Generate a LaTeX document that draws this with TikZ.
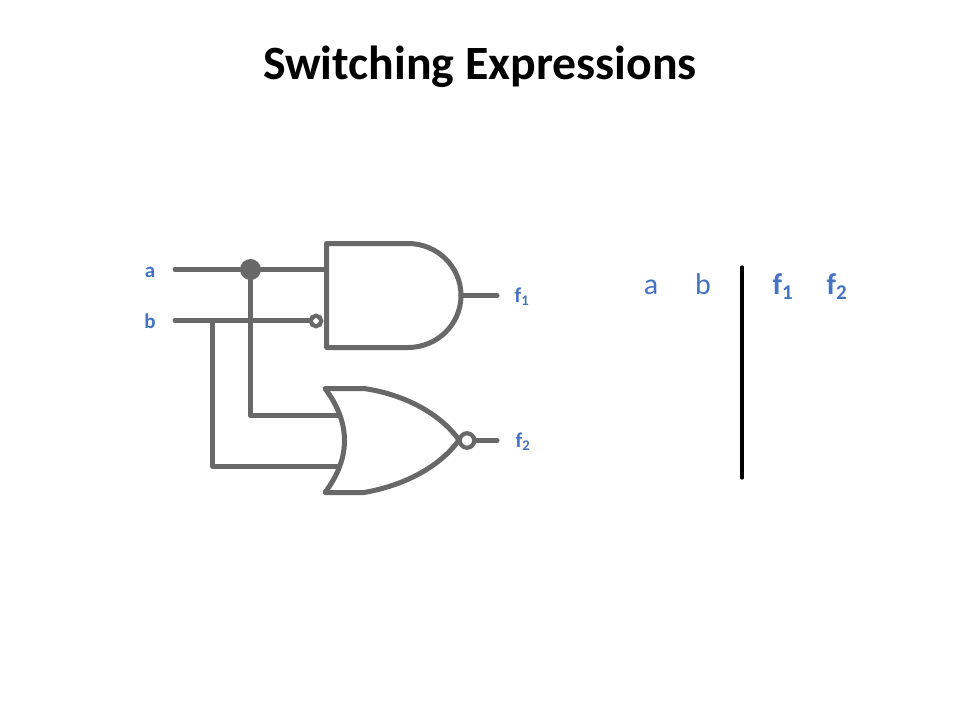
\documentclass[tikz,border=0pt]{standalone}
\usepackage{fontspec}
\setmainfont{Carlito}
\definecolor{wire}{RGB}{104,104,104}
\definecolor{lbl}{RGB}{68,114,196}
\tikzset{
  wireline/.style={draw=wire,line width=5pt,line cap=round,line join=round},
  bubble/.style={circle,draw=wire,line width=4.2pt,fill=white,inner sep=0pt},
  dotnode/.style={circle,fill=wire,inner sep=0pt,minimum size=21pt},
  smalllbl/.style={text=lbl,font=\bfseries\fontsize{21}{24}\selectfont,inner sep=0pt,anchor=base},
  tablelbl/.style={text=lbl,font=\fontsize{30}{33}\selectfont,inner sep=0pt,anchor=base},
  tablebold/.style={text=lbl,font=\bfseries\fontsize{30}{33}\selectfont,inner sep=0pt,anchor=base},
}
\begin{document}
\begin{tikzpicture}[x=1pt,y=-1pt]
\useasboundingbox (0,0) rectangle (960,720);
\node[inner sep=0pt,font=\bfseries\fontsize{47.8}{52}\selectfont,text=black,anchor=base] (title) at (480,79) {Switching Expressions};
% labels
\node[smalllbl] (a) at (150,277) {a};
\node[smalllbl] (b) at (150,328) {b};
\node[smalllbl] (f1) at (522,302) {f\textsubscript{1}};
\node[smalllbl] (f2) at (523,447) {f\textsubscript{2}};
% free wire ends and joints
\coordinate (aS) at (175,269.5);
\coordinate (bS) at (175,320.5);
\coordinate (jb) at (212.5,320.5);
\coordinate (aIn) at (326,269.5);
\coordinate (bIn) at (310,320.5);
\coordinate (norA) at (341,415.5);
\coordinate (norB) at (341,466.5);
\coordinate (c1) at (250.5,415.5);
\coordinate (c2) at (212.5,466.5);
\coordinate (o1) at (461,295.5);
\coordinate (o1e) at (497,295.5);
\coordinate (o2e) at (497,440.5);
% wires
\node[dotnode] (dot) at (250.5,269.5) {};
\draw[wireline] (aS) -- (dot) -- (aIn);
\draw[wireline] (bS) -- (bIn);
\draw[wireline] (dot) -- (c1) -- (norA);
\draw[wireline] (jb) -- (c2) -- (norB);
% AND gate
\draw[wireline,fill=white] (326.5,243.5) -- (408,243.5) .. controls (437,243.5) and (461,266.5) .. (461,295.5)
  .. controls (461,324.5) and (437,347.5) .. (408,347.5) -- (326.5,347.5) -- cycle;
\node[bubble,minimum size=10.5pt] (nb) at (316,321) {};
\draw[wireline] (o1) -- (o1e);
% NOR gate
\draw[wireline,fill=white] (325,388.5) -- (364,388.5) .. controls (402,394) and (439,412) .. (459,440)
  .. controls (439,468) and (402,486) .. (364,492.5) -- (325,492.5) .. controls (351,458) and (351,423) .. (325,388.5) -- cycle;
\node[bubble,minimum size=14.5pt] (nc) at (467,440.5) {};
\draw[wireline] (nc) -- (o2e);
% table
\node[tablelbl] (ta) at (651,294) {a};
\node[tablelbl] (tb) at (703,294) {b};
\node[tablebold] (tf1) at (783,294) {f\textsubscript{1}};
\node[tablebold] (tf2) at (837,294) {f\textsubscript{2}};
\coordinate (vt) at (742,267);
\coordinate (vb) at (742,478);
\draw[draw=black,line width=3.2pt,line cap=round] (vt) -- (vb);
\end{tikzpicture}
\end{document}
